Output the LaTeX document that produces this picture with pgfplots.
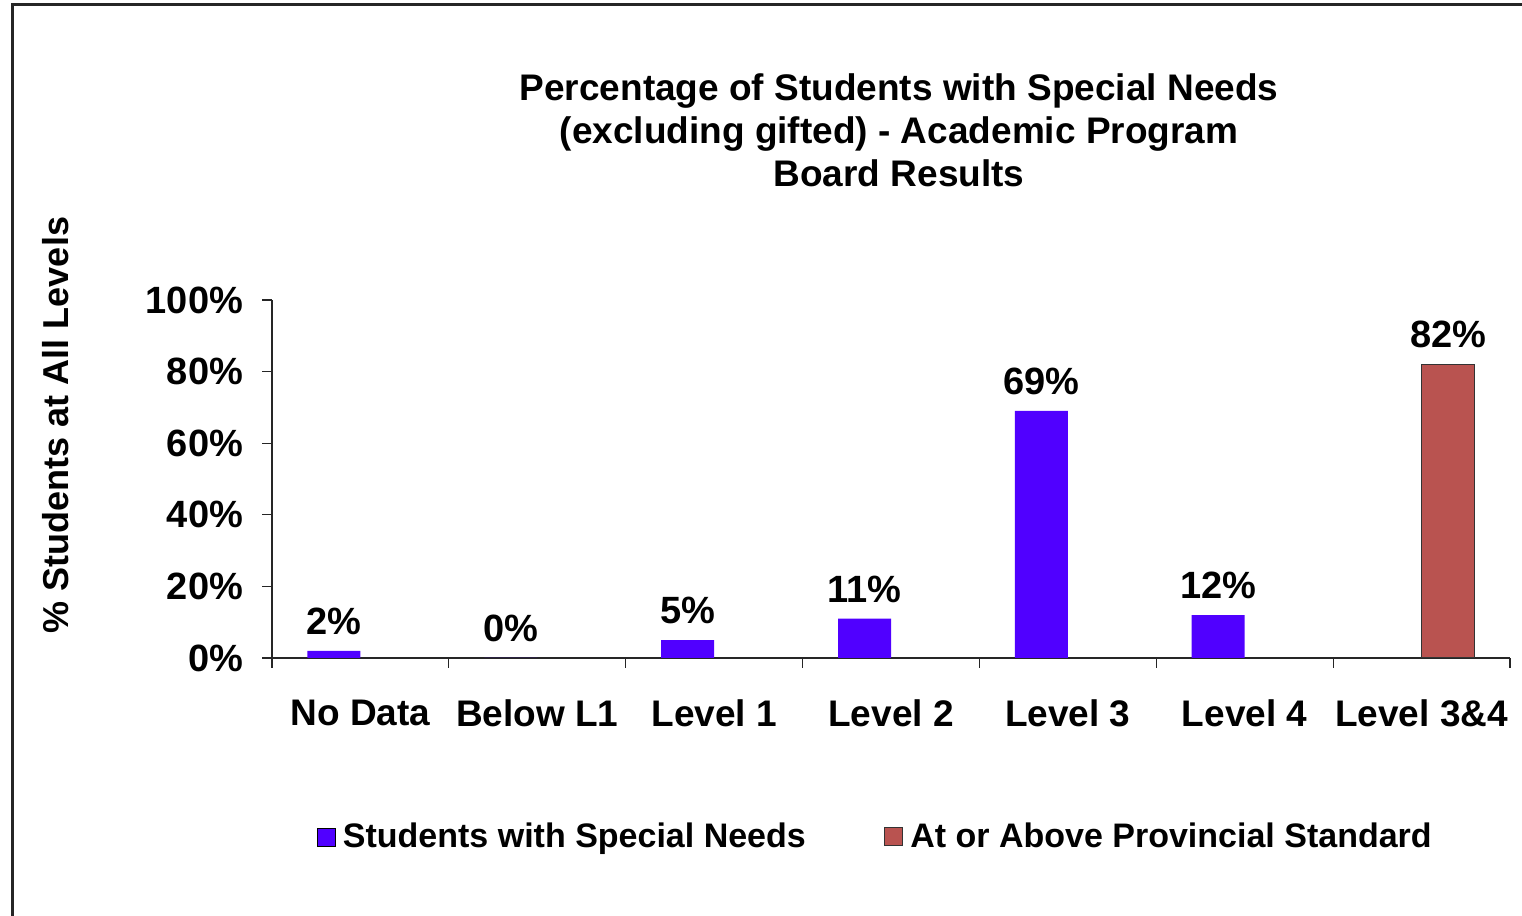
\documentclass[border=0pt]{standalone}
\usepackage{pgfplots}
\pgfplotsset{compat=1.18}
\usepackage{fontspec}
\setmainfont{Liberation Sans}
\definecolor{sblue}{RGB}{80,0,255}
\definecolor{sred}{RGB}{185,83,80}
\pgfplotsset{sqlegend/.style={legend image code/.code={\draw[##1] (0pt,-4.5pt) rectangle (9pt,4.5pt); \path[draw=none,fill=none] (0pt,0pt) -- (11pt,0pt);}}}
\begin{document}
\begin{tikzpicture}
\useasboundingbox (0,0) rectangle (761pt,458pt);
\draw[line width=1.5pt, black!85] (6pt,-20pt) -- (6pt,455.5pt) -- (800pt,455.5pt);
\node[font=\bfseries\fontsize{18.5}{21.5}\selectfont, align=center, anchor=north, inner sep=0pt] at (449.5pt,421.5pt)
  {Percentage of Students with Special Needs\\(excluding gifted) - Academic Program\\Board Results};
\node[font=\bfseries\fontsize{18}{20}\selectfont, rotate=90, inner sep=0pt] at (28pt,245.5pt) {\% Students at All Levels};
\begin{axis}[
  at={(136pt,129pt)}, anchor=south west,
  scale only axis, width=619pt, height=179pt,
  xmin=-0.5, xmax=6.5, ymin=0, ymax=100,
  ybar=0pt, bar width=26.5pt,
  axis x line*=bottom, axis y line*=left,
  axis line style={-, black!85, line width=0.6pt},
  xtick={-0.5,0.5,1.5,2.5,3.5,4.5,5.5,6.5},
  x tick label as interval,
  xticklabels={No Data,Below L1,Level 1,Level 2,Level 3,Level 4,Level 3\&4},
  ytick={0,20,40,60,80,100},
  yticklabel={\pgfmathprintnumber{\tick}\%},
  /pgf/number format/assume math mode=true,
  tick align=outside, major tick length=5pt,
  tick style={black!85, line width=0.6pt},
  xticklabel style={font=\bfseries\fontsize{18.5}{20}\selectfont, yshift=-12.5pt},
  yticklabel style={font=\bfseries\fontsize{19}{20}\selectfont, xshift=-6pt},
  point meta=y,
  nodes near coords={\pgfmathprintnumber{\pgfplotspointmeta}\%},
  nodes near coords style={font=\bfseries\fontsize{19}{20}\selectfont, yshift=4.5pt},
  legend columns=2,
  legend style={at={(0.488,-0.5)}, anchor=center, draw=none, fill=none,
    font=\bfseries\fontsize{17}{19}\selectfont,
    /tikz/every even column/.append style={column sep=37pt},
    cells={anchor=west}},
]
\addplot[fill=sblue, draw=none, sqlegend]
  coordinates {(0,2) (1,0) (2,5) (3,11) (4,69) (5,12)};
\addlegendentry{Students with Special Needs}
\addplot[fill=sred, draw=black!80, line width=0.5pt, sqlegend]
  coordinates {(6,82)};
\addlegendentry{At or Above Provincial Standard}
\end{axis}
\end{tikzpicture}
\end{document}
